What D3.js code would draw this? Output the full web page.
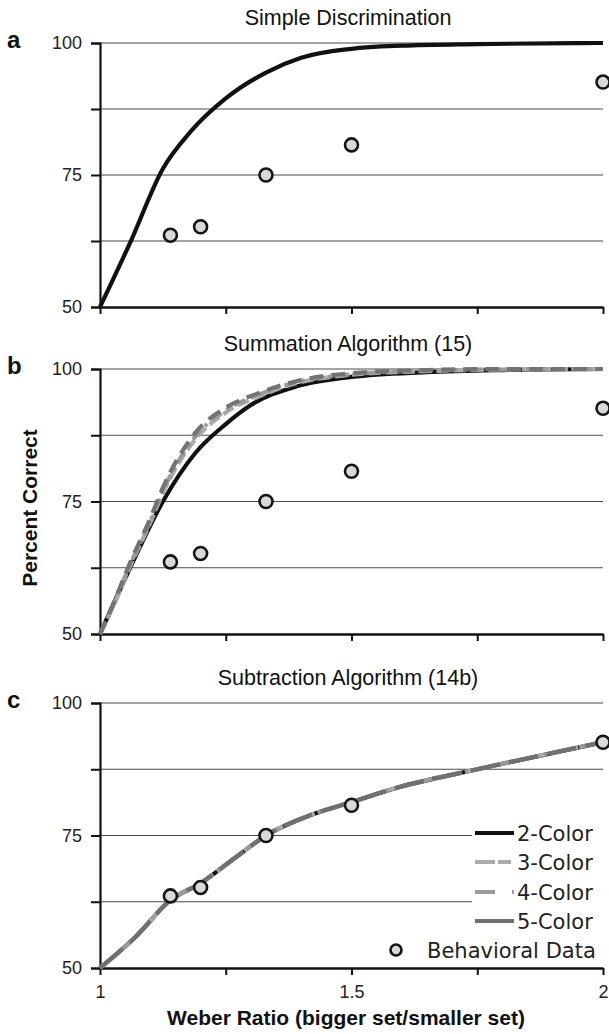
<!DOCTYPE html>
<html>
<head>
<meta charset="utf-8">
<script src="https://cdn.jsdelivr.net/npm/d3@7"></script>
<style>
  html, body { margin: 0; padding: 0; background: #fff; }
  svg { display: block; }
</style>
</head>
<body>
<svg id="chart" width="609" height="1034"></svg>
<script>
// ---------- data ----------
const xTicks = [1, 1.25, 1.5, 1.75, 2];
const xTickLabels = ["1", "", "1.5", "", "2"];
const yTicks = [50, 62.5, 75, 87.5, 100];
const yTickLabels = ["50", "", "75", "", "100"];

const panelTitles = ["Simple Discrimination", "Summation Algorithm (15)", "Subtraction Algorithm (14b)"];
const panelLetters = ["a", "b", "c"];

const behavX = [1.14, 1.2, 1.33, 1.5, 2];
const behavY = [63.6, 65.2, 75, 80.7, 92.6];

// panel a: simple discrimination model
const simpleX = [1, 1.06, 1.125, 1.18, 1.25, 1.33, 1.4, 1.5, 1.6, 1.75, 2];
const simpleY = [50, 62.2, 76.2, 83.2, 89.5, 94.4, 97.2, 98.9, 99.5, 99.8, 100];

// panel b: summation algorithm
const sum2X = [1, 1.06, 1.125, 1.19, 1.25, 1.3, 1.39, 1.5, 1.65, 1.8, 2];
const sum2Y = [50, 62.5, 75.0, 84.2, 89.6, 93.2, 96.7, 98.5, 99.4, 99.8, 100];
const sum3X = [1, 1.03, 1.06, 1.1, 1.125, 1.19, 1.25, 1.32, 1.39, 1.5, 1.65, 1.8, 2];
const sum3Y = [50, 56.0, 62.8, 71.0, 76.6, 86.8, 91.8, 95.0, 97.3, 98.9, 99.6, 99.9, 100];
const sum4X = [1, 1.03, 1.06, 1.1, 1.125, 1.19, 1.25, 1.32, 1.39, 1.5, 1.65, 1.8, 2];
const sum4Y = [50, 56.2, 63.1, 71.3, 77.0, 87.3, 92.2, 95.3, 97.5, 99.0, 99.7, 99.9, 100];
const sum5X = [1, 1.03, 1.06, 1.1, 1.125, 1.19, 1.25, 1.32, 1.39, 1.5, 1.65, 1.8, 2];
const sum5Y = [50, 56.5, 63.5, 71.8, 77.6, 88.0, 92.7, 95.6, 97.7, 99.2, 99.8, 100, 100];

// panel c: subtraction algorithm
const sub2X = [1, 1.07, 1.14, 1.2, 1.27, 1.33, 1.42, 1.5, 1.59, 1.75, 2];
const sub2Y = [50, 55.8, 62.8, 66.0, 70.9, 75.0, 78.9, 81.3, 84.0, 87.5, 92.6];
const sub3X = [1, 1.07, 1.14, 1.2, 1.27, 1.33, 1.42, 1.5, 1.59, 1.75, 2];
const sub3Y = [50, 55.8, 62.8, 66.0, 70.9, 75.0, 78.9, 81.3, 84.0, 87.5, 92.6];
const sub4X = [1, 1.07, 1.14, 1.2, 1.27, 1.33, 1.42, 1.5, 1.59, 1.75, 2];
const sub4Y = [50, 55.8, 62.8, 66.0, 70.9, 75.0, 78.9, 81.3, 84.0, 87.5, 92.6];
const sub5X = [1, 1.07, 1.14, 1.2, 1.27, 1.33, 1.42, 1.5, 1.59, 1.75, 2];
const sub5Y = [50, 55.8, 62.8, 66.0, 70.9, 75.0, 78.9, 81.3, 84.0, 87.5, 92.6];

const legendLabels = ["2-Color", "3-Color", "4-Color", "5-Color", "Behavioral Data"];

// ---------- styles ----------
const styles = {
  c2: { stroke: "#111", width: 4.2, dash: null },
  c3: { stroke: "#ababab", width: 4.2, dash: "12,5" },
  c4: { stroke: "#9a9a9a", width: 4.2, dash: "12,6,3,6" },
  c5: { stroke: "#737373", width: 4.2, dash: "14,8" },
  c5c: { stroke: "#707070", width: 4.2, dash: "30,9" }
};

const zip = (xs, ys) => xs.map((x, i) => [x, ys[i]]);

const panels = [
  { top: 43, bottom: 307, series: [ [zip(simpleX, simpleY), styles.c2] ] },
  { top: 369, bottom: 634, series: [
      [zip(sum2X, sum2Y), styles.c2],
      [zip(sum3X, sum3Y), styles.c3],
      [zip(sum4X, sum4Y), styles.c4],
      [zip(sum5X, sum5Y), styles.c5] ] },
  { top: 703, bottom: 968, series: [
      [zip(sub2X, sub2Y), styles.c2],
      [zip(sub3X, sub3Y), styles.c3],
      [zip(sub4X, sub4Y), styles.c4],
      [zip(sub5X, sub5Y), styles.c5c] ] }
];

const svg = d3.select("#chart");
const x = d3.scaleLinear().domain([1, 2]).range([100, 603]);
const FONT = "'Liberation Sans', Arial, Helvetica, sans-serif";

panels.forEach((p, pi) => {
  const y = d3.scaleLinear().domain([50, 100]).range([p.bottom, p.top]);
  const g = svg.append("g");

  // gridlines
  g.selectAll("line.grid").data(yTicks.filter(t => t > 50)).enter().append("line")
    .attr("x1", x(1)).attr("x2", x(2))
    .attr("y1", d => y(d)).attr("y2", d => y(d))
    .attr("stroke", "#4a4a4a").attr("stroke-width", 1.2);

  // left axis
  const ya = g.append("g").attr("transform", `translate(${x(1)},0)`)
    .call(d3.axisLeft(y).tickValues(yTicks).tickSize(9).tickPadding(9)
      .tickFormat((d, i) => yTickLabels[i]));
  ya.select(".domain").attr("stroke", "#111").attr("stroke-width", 2.2);
  ya.selectAll(".tick line").attr("stroke", "#111").attr("stroke-width", 2);
  ya.selectAll(".tick text").attr("font-family", FONT).attr("font-size", 18).attr("fill", "#222");

  // bottom axis
  const xa = g.append("g").attr("transform", `translate(0,${p.bottom})`)
    .call(d3.axisBottom(x).tickValues(xTicks).tickSize(7).tickSizeOuter(0).tickPadding(10)
      .tickFormat((d, i) => pi === 2 ? xTickLabels[i] : ""));
  xa.select(".domain").attr("stroke", "#111").attr("stroke-width", 2.6);
  xa.selectAll(".tick line").attr("stroke", "#111").attr("stroke-width", 2);
  xa.selectAll(".tick text").attr("font-family", FONT).attr("font-size", 18).attr("fill", "#222");

  // title
  g.append("text").attr("x", 348).attr("y", p.top - 18)
    .attr("text-anchor", "middle").attr("font-family", FONT).attr("font-size", 21.5)
    .attr("fill", "#111").text(panelTitles[pi]);
  // panel letter
  g.append("text").attr("x", 7).attr("y", p.top + 5)
    .attr("font-family", FONT).attr("font-size", 24).attr("font-weight", "bold")
    .attr("fill", "#111").text(panelLetters[pi]);

  // model curves
  const line = d3.line().x(d => x(d[0])).y(d => y(d[1])).curve(d3.curveMonotoneX);
  p.series.forEach(([pts, st]) => {
    g.append("path").attr("d", line(pts)).attr("fill", "none")
      .attr("stroke", st.stroke).attr("stroke-width", st.width)
      .attr("stroke-dasharray", st.dash).attr("stroke-linecap", "butt");
  });

  // behavioral data
  g.selectAll("circle.b").data(zip(behavX, behavY)).enter().append("circle")
    .attr("cx", d => x(d[0])).attr("cy", d => y(d[1])).attr("r", 6.5)
    .attr("fill", "#d9d9d9").attr("stroke", "#151515").attr("stroke-width", 2.6);

  if (pi === 2) {
    // legend
    const lg = svg.append("g");
    const rowY = [833, 862, 892, 921, 950];
    lg.append("rect").attr("x", 472).attr("y", 818).attr("width", 137).attr("height", 118).attr("fill", "#fff");
    const legendStyles = [
      { stroke: "#111", dash: null },
      { stroke: "#ababab", dash: "20,3,13,20" },
      { stroke: "#9a9a9a", dash: "20,17,3,20" },
      { stroke: "#707070", dash: null }
    ];
    legendStyles.forEach((st, i) => {
      lg.append("line").attr("x1", 475).attr("x2", 514).attr("y1", rowY[i]).attr("y2", rowY[i])
        .attr("stroke", st.stroke).attr("stroke-width", 4.2).attr("stroke-dasharray", st.dash);
      lg.append("text").attr("x", 517).attr("y", rowY[i]).attr("dy", "0.36em")
        .attr("font-family", "'DejaVu Sans', Verdana, sans-serif").attr("font-size", 21)
        .attr("fill", "#222").text(legendLabels[i]);
    });
    lg.append("circle").attr("cx", 396).attr("cy", rowY[4]).attr("r", 5.5)
      .attr("fill", "#d9d9d9").attr("stroke", "#151515").attr("stroke-width", 2.6);
    lg.append("text").attr("x", 427).attr("y", rowY[4]).attr("dy", "0.36em")
      .attr("font-family", "'DejaVu Sans', Verdana, sans-serif").attr("font-size", 21)
      .attr("fill", "#222").text(legendLabels[4]);
  }
});

// axis titles
svg.append("text").attr("x", 346).attr("y", 1025).attr("text-anchor", "middle")
  .attr("font-family", FONT).attr("font-size", 21).attr("font-weight", "bold")
  .attr("fill", "#111").text("Weber Ratio (bigger set/smaller set)");
svg.append("text").attr("transform", "translate(37,508) rotate(-90)").attr("text-anchor", "middle")
  .attr("font-family", FONT).attr("font-size", 21).attr("font-weight", "bold")
  .attr("fill", "#111").text("Percent Correct");
</script>
</body>
</html>
